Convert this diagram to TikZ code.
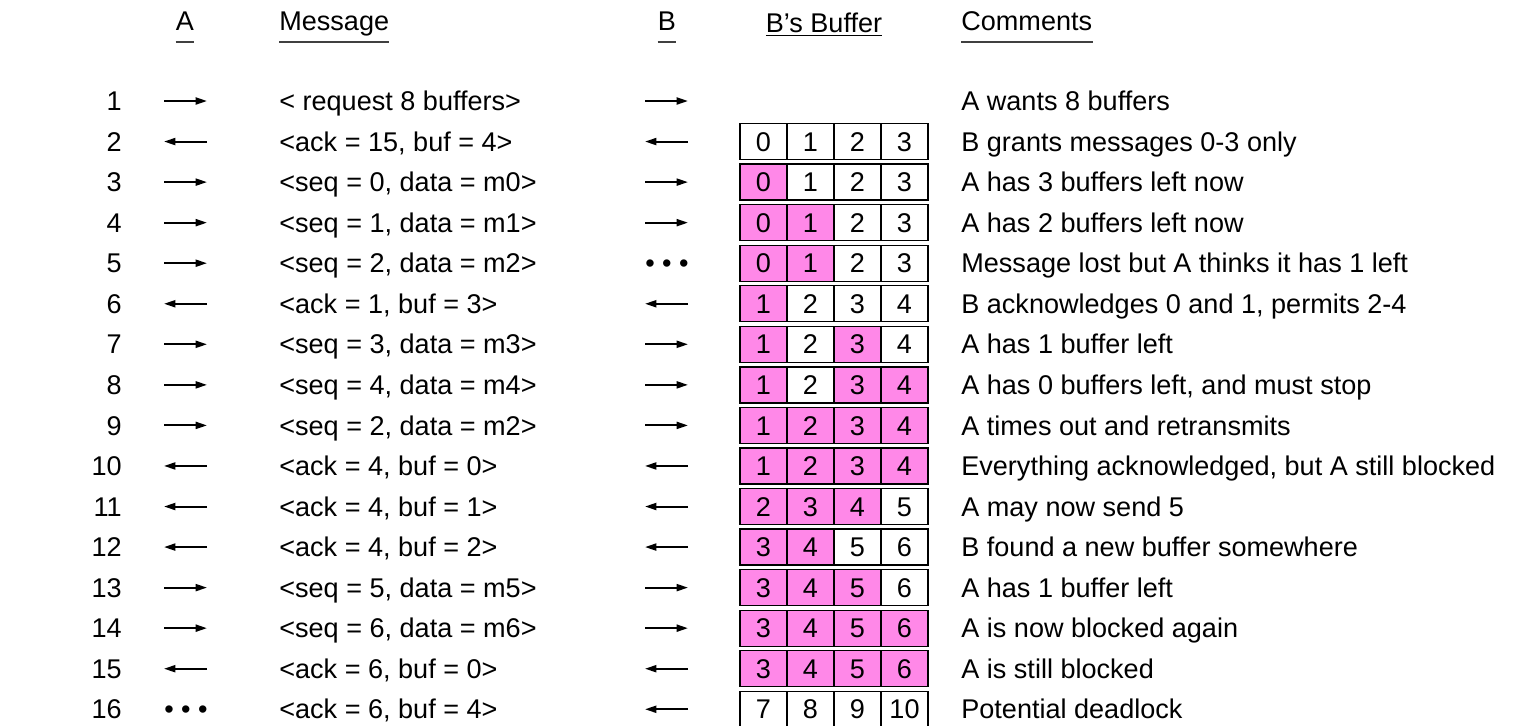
\documentclass[tikz,border=0pt]{standalone}
\usepackage{fontspec}
\setmainfont{Liberation Sans}
\usetikzlibrary{arrows.meta,positioning}

\definecolor{held}{RGB}{255,136,232}
\colorlet{free}{white}

\tikzset{
  lbl/.style={font=\fontsize{15.4}{18}\selectfont, inner sep=0pt, text height=11pt, text depth=0pt},
  cell/.style={lbl, draw=black, line width=0.75pt, minimum width=0.94cm, minimum height=0.72cm},
  msg/.style={line width=1.15pt, -{Triangle[length=6.5pt,width=4pt]}},
  hline/.style={line width=1.1pt, black!75},
}

\begin{document}
\begin{tikzpicture}[x=0.02cm,y=-0.02cm]
\useasboundingbox (0,0) rectangle (1524,725);
\clip (0,0) rectangle (1524,725);

% column heads
\node[lbl] (hA) at (185,21) {A};
\node[lbl,anchor=west] (hMsg) at (279,21) {Message};
\node[lbl] (hB) at (667,21) {B};
\node[lbl] (hBuf) at (824,23) {\underline{B’s Buffer}};
\node[lbl,anchor=west] (hCom) at (961,21) {Comments};
\foreach \h in {hA,hMsg,hB,hCom}
  \draw[hline] ([yshift=-0.22cm]\h.south west) -- ([yshift=-0.22cm]\h.south east);

% messages: 0 = lost, 1 = to the right, 2 = to the left
\foreach \row/\da/\msg/\db/\note in {
  1/1/{< request 8 buffers>}/1/{A wants 8 buffers},
  2/2/{<ack = 15, buf = 4>}/2/{B grants messages 0-3 only},
  3/1/{<seq = 0, data = m0>}/1/{A has 3 buffers left now},
  4/1/{<seq = 1, data = m1>}/1/{A has 2 buffers left now},
  5/1/{<seq = 2, data = m2>}/0/{Message lost but A thinks it has 1 left},
  6/2/{<ack = 1, buf = 3>}/2/{B acknowledges 0 and 1, permits 2-4},
  7/1/{<seq = 3, data = m3>}/1/{A has 1 buffer left},
  8/1/{<seq = 4, data = m4>}/1/{A has 0 buffers left, and must stop},
  9/1/{<seq = 2, data = m2>}/1/{A times out and retransmits},
  10/2/{<ack = 4, buf = 0>}/2/{Everything acknowledged, but A still blocked},
  11/2/{<ack = 4, buf = 1>}/2/{A may now send 5},
  12/2/{<ack = 4, buf = 2>}/2/{B found a new buffer somewhere},
  13/1/{<seq = 5, data = m5>}/1/{A has 1 buffer left},
  14/1/{<seq = 6, data = m6>}/1/{A is now blocked again},
  15/2/{<ack = 6, buf = 0>}/2/{A is still blocked},
  16/0/{<ack = 6, buf = 4>}/2/{Potential deadlock}}
{
  \pgfmathsetmacro{\y}{101+(\row-1)*40.55}
  \node[lbl,anchor=east] (n\row) at (122,\y) {\row};
  \coordinate (al\row) at (164,\y);
  \coordinate (ar\row) at (207,\y);
  \node[lbl,anchor=west] (m\row) at (279,\y) {\msg};
  \coordinate (bl\row) at (645,\y);
  \coordinate (br\row) at (688,\y);
  \node[lbl,anchor=west] (k\row) at (961,\y) {\note};
  \ifcase\da \node[lbl] (dA\row) at (186,\y) {• • •};
  \or \draw[msg] (al\row) -- (ar\row);
  \or \draw[msg] (ar\row) -- (al\row);
  \fi
  \ifcase\db \node[lbl] (dB\row) at (667,\y) {• • •};
  \or \draw[msg] (bl\row) -- (br\row);
  \or \draw[msg] (br\row) -- (bl\row);
  \fi
}

% B's buffer
\foreach \row/\na/\nb/\nc/\nd/\fa/\fb/\fc/\fd in {
  2/0/1/2/3/free/free/free/free,
  3/0/1/2/3/held/free/free/free,
  4/0/1/2/3/held/held/free/free,
  5/0/1/2/3/held/held/free/free,
  6/1/2/3/4/held/free/free/free,
  7/1/2/3/4/held/free/held/free,
  8/1/2/3/4/held/free/held/held,
  9/1/2/3/4/held/held/held/held,
  10/1/2/3/4/held/held/held/held,
  11/2/3/4/5/held/held/held/free,
  12/3/4/5/6/held/held/free/free,
  13/3/4/5/6/held/held/held/free,
  14/3/4/5/6/held/held/held/held,
  15/3/4/5/6/held/held/held/held,
  16/7/8/9/10/free/free/free/free}
{
  \pgfmathsetmacro{\y}{101+(\row-1)*40.55}
  \foreach \k/\val/\fil in {0/\na/\fa,1/\nb/\fb,2/\nc/\fc,3/\nd/\fd}
    \node[cell,fill=\fil] (c\row-\k) at (763.5+47*\k,\y) {\val};
}
\end{tikzpicture}
\end{document}
